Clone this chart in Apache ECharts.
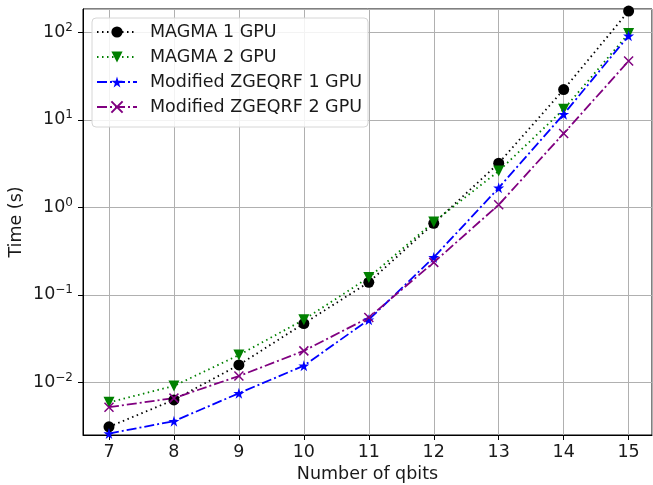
<!DOCTYPE html>
<html lang="en">
<head>
  <meta charset="UTF-8">
  <title>QR timing</title>
  <style>
    body { margin: 0; background: #fff; }
  </style>
</head>
<body>
<div id="main" style="width:653px; height:485px;"></div>

<script src="https://cdn.jsdelivr.net/npm/echarts@6/dist/echarts.min.js"></script>

<script>
  // number of qubits on the x axis
  var qbits = [7, 8, 9, 10, 11, 12, 13, 14, 15];

  // run times in seconds
  var magma1 = [0.0031, 0.0063, 0.0158, 0.047, 0.139, 0.656, 3.2, 22.2, 175];
  var magma2 = [0.0059, 0.0091, 0.0205, 0.052, 0.158, 0.68, 2.6, 13.2, 97];
  var zgeqrf1 = [0.0026, 0.0036, 0.0075, 0.0155, 0.052, 0.268, 1.67, 11.6, 91.5];
  var zgeqrf2 = [0.0052, 0.0066, 0.0118, 0.0229, 0.055, 0.235, 1.07, 7.0, 47];

  var seriesNames = ['MAGMA 1 GPU', 'MAGMA 2 GPU', 'Modified ZGEQRF 1 GPU', 'Modified ZGEQRF 2 GPU'];

  var FONT = 'DejaVu Sans';
  var FS = 17.5;
  var STAR = 'path://M50,0 L61,35 L98,35 L68,57 L79,91 L50,70 L21,91 L32,57 L2,35 L39,35 Z';
  var CROSS = 'path://M0,0 L10,10 M10,0 L0,10';

  function pairs(ys) {
    return qbits.map(function (q, i) { return [q, ys[i]]; });
  }

  function expLabel(v) {
    var e = Math.round(Math.log10(v));
    return '10{sup|' + String(e).replace('-', '\u2212') + '}';
  }

  var chartDom = document.getElementById('main');
  var myChart = echarts.init(chartDom);

  var option = {
    backgroundColor: '#fff',
    animation: false,
    textStyle: { fontFamily: FONT },
    grid: {
      left: 83, right: 1, top: 9, bottom: 50,
      show: true, borderColor: '#000', borderWidth: 1,
      containLabel: false,
      outerBoundsMode: 'none'
    },
    legend: {
      orient: 'vertical',
      left: 92, top: 18,
      padding: [5, 6, 11, 4],
      itemWidth: 40, itemHeight: 14, itemGap: 7,
      backgroundColor: 'rgba(255,255,255,0.85)',
      borderColor: '#d6d6d6', borderWidth: 1, borderRadius: 4,
      textStyle: { fontFamily: FONT, fontSize: FS, lineHeight: 18, color: '#1a1a1a', padding: [0, 0, 0, 8] },
      data: seriesNames
    },
    xAxis: {
      type: 'value',
      min: 6.6, max: 15.36,
      splitNumber: 9, minInterval: 1, maxInterval: 1,
      name: 'Number of qbits',
      nameLocation: 'middle', nameGap: 29,
      nameTextStyle: { fontFamily: FONT, fontSize: FS, color: '#1a1a1a' },
      axisLine: { show: true, lineStyle: { color: '#000', width: 1 } },
      axisTick: { show: true, length: 5, lineStyle: { color: '#000' } },
      axisLabel: { fontFamily: FONT, fontSize: FS, color: '#1a1a1a', margin: 8, showMinLabel: false, showMaxLabel: false },
      splitLine: { show: true, lineStyle: { color: '#b0b0b0', width: 1 } }
    },
    yAxis: {
      type: 'log',
      logBase: 10,
      min: 0.0025, max: 185,
      name: 'Time (s)',
      nameLocation: 'middle', nameGap: 58,
      nameMoveOverlap: false,
      nameTextStyle: { fontFamily: FONT, fontSize: FS, color: '#1a1a1a' },
      axisLine: { show: true, lineStyle: { color: '#000', width: 1 } },
      axisTick: { show: true, length: 5, lineStyle: { color: '#000' } },
      axisLabel: {
        fontFamily: FONT, fontSize: FS, color: '#1a1a1a', margin: 10,
        showMinLabel: false, showMaxLabel: false,
        formatter: expLabel,
        rich: { sup: { fontFamily: FONT, fontSize: 12, color: '#1a1a1a', padding: [0, 0, 9, 0] } }
      },
      splitLine: { show: true, lineStyle: { color: '#b0b0b0', width: 1 } }
    },
    series: [
      {
        name: seriesNames[0], type: 'line', data: pairs(magma1),
        symbol: 'circle', symbolSize: 11,
        itemStyle: { color: '#000' },
        lineStyle: { color: '#000', width: 1.8, type: [1.5, 3.5] }
      },
      {
        name: seriesNames[1], type: 'line', data: pairs(magma2),
        symbol: 'triangle', symbolRotate: 180, symbolSize: 11,
        itemStyle: { color: '#008000' },
        lineStyle: { color: '#008000', width: 1.8, type: [1.5, 3.5] }
      },
      {
        name: seriesNames[2], type: 'line', data: pairs(zgeqrf1),
        symbol: STAR, symbolSize: 11,
        itemStyle: { color: '#0000ff' },
        lineStyle: { color: '#0000ff', width: 1.8, type: [10, 3, 2, 3] }
      },
      {
        name: seriesNames[3], type: 'line', data: pairs(zgeqrf2),
        symbol: CROSS, symbolSize: 9,
        itemStyle: { color: '#800080', borderColor: '#800080', borderWidth: 1.5 },
        lineStyle: { color: '#800080', width: 1.8, type: [10, 3, 2, 3] }
      }
    ]
  };

  myChart.setOption(option);
</script>
</body>
</html>
